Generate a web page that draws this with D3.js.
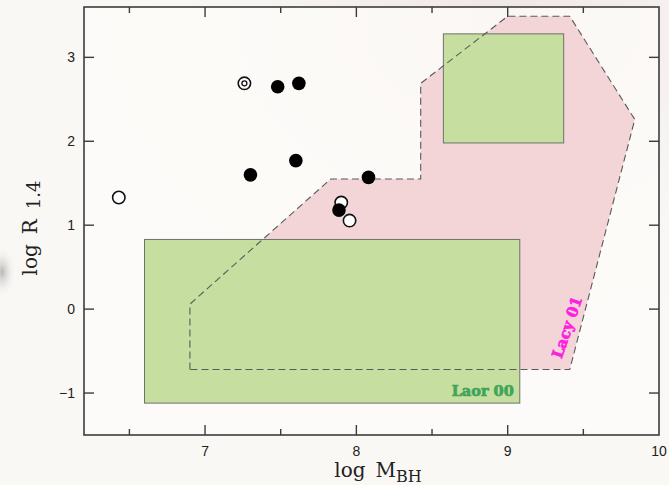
<!DOCTYPE html>
<html>
<head>
<meta charset="utf-8">
<script src="https://cdn.jsdelivr.net/npm/d3@7"></script>
<style>
  body { margin: 0; background: #faf8f5; }
  svg { display: block; }
</style>
</head>
<body>
<svg id="chart" width="669" height="485"></svg>
<script>
// tick values
var xMajor = [7, 8, 9, 10]
var xMinor = [6.5, 7.5, 8.5, 9.5]
var yMajor = [-1, 0, 1, 2, 3]

// Lacy 01 region (log M_BH, log R)
var lacyX = [6.90, 6.90, 7.83, 8.425, 8.425, 9.00, 9.41, 9.84, 9.41]
var lacyY = [-0.72, 0.06, 1.55, 1.55, 2.69, 3.49, 3.49, 2.26, -0.72]

// Laor 00 boxes: [x0, x1, y0, y1]
var laorBoxes = [
    [6.60, 9.08, -1.12, 0.83],
    [8.575, 9.37, 1.98, 3.28]
]

// objects
var filledX = [7.48, 7.62, 7.30, 7.60, 8.08]
var filledY = [2.65, 2.69, 1.60, 1.77, 1.57]
var openX = [6.43, 7.90]
var openY = [1.33, 1.27]
var filled2X = [7.885]
var filled2Y = [1.18]
var open2X = [7.955]
var open2Y = [1.055]
var ringX = [7.26]
var ringY = [2.69]

var svg = d3.select("#chart")
var margin = {left: 84, right: 10, top: 7, bottom: 50}
var width = 669, height = 485

var x = d3.scaleLinear().domain([6.2, 10]).range([margin.left, width - margin.right])
var y = d3.scaleLinear().domain([-1.5, 3.6]).range([height - margin.bottom, margin.top])

// faint background texture
var defs = svg.append("defs")
var g1 = defs.append("radialGradient").attr("id", "bgpink").attr("cx", "0.75").attr("cy", "0.05").attr("r", "0.7")
g1.append("stop").attr("offset", "0").attr("stop-color", "#efe6e3")
g1.append("stop").attr("offset", "1").attr("stop-color", "#faf8f5").attr("stop-opacity", 0)
var g2 = defs.append("radialGradient").attr("id", "blob").attr("cx", "0.5").attr("cy", "0.5").attr("r", "0.5")
g2.append("stop").attr("offset", "0").attr("stop-color", "#b8b8b8")
g2.append("stop").attr("offset", "1").attr("stop-color", "#faf8f5").attr("stop-opacity", 0)

svg.append("rect").attr("width", width).attr("height", height).attr("fill", "#faf8f5")
svg.append("rect").attr("width", width).attr("height", height).attr("fill", "url(#bgpink)")
svg.append("ellipse").attr("cx", 2).attr("cy", 272).attr("rx", 14).attr("ry", 26).attr("fill", "url(#blob)")

// plot area (almost white)
svg.append("rect")
    .attr("x", x(6.2)).attr("y", y(3.6))
    .attr("width", x(10) - x(6.2)).attr("height", y(-1.5) - y(3.6))
    .attr("fill", "#fdfcfa").attr("opacity", 0.75)

// Lacy region fill
var lacyPts = lacyX.map((d, i) => [x(d), y(lacyY[i])])
svg.append("polygon")
    .attr("points", lacyPts.map(p => p.join(",")).join(" "))
    .attr("fill", "#f3d5d8")

// Laor boxes
svg.selectAll(".laor")
    .data(laorBoxes)
    .enter().append("rect")
    .attr("class", "laor")
    .attr("x", d => x(d[0]))
    .attr("y", d => y(d[3]))
    .attr("width", d => x(d[1]) - x(d[0]))
    .attr("height", d => y(d[2]) - y(d[3]))
    .attr("fill", "#c6dea0")
    .attr("stroke", "#6f7368")
    .attr("stroke-width", 1)

// Lacy dashed outline
svg.append("polygon")
    .attr("points", lacyPts.map(p => p.join(",")).join(" "))
    .attr("fill", "none")
    .attr("stroke", "#5a5a5a")
    .attr("stroke-width", 1.1)
    .attr("stroke-dasharray", "7,4")

// frame
svg.append("rect")
    .attr("x", x(6.2)).attr("y", y(3.6))
    .attr("width", x(10) - x(6.2)).attr("height", y(-1.5) - y(3.6))
    .attr("fill", "none").attr("stroke", "#3c3c3c").attr("stroke-width", 1.6)

// ticks, pointing inward
var tickColor = "#3c3c3c"
function xTicks(vals, len) {
    vals.forEach(function (v) {
        svg.append("line").attr("x1", x(v)).attr("x2", x(v))
            .attr("y1", y(-1.5)).attr("y2", y(-1.5) - len)
            .attr("stroke", tickColor).attr("stroke-width", 1.4)
        svg.append("line").attr("x1", x(v)).attr("x2", x(v))
            .attr("y1", y(3.6)).attr("y2", y(3.6) + len)
            .attr("stroke", tickColor).attr("stroke-width", 1.4)
    })
}
xTicks(xMajor.filter(v => v < 10), 10)
xTicks(xMinor, 6)
yMajor.forEach(function (v) {
    svg.append("line").attr("x1", x(6.2)).attr("x2", x(6.2) + 10)
        .attr("y1", y(v)).attr("y2", y(v))
        .attr("stroke", tickColor).attr("stroke-width", 1.4)
    svg.append("line").attr("x1", x(10)).attr("x2", x(10) - 10)
        .attr("y1", y(v)).attr("y2", y(v))
        .attr("stroke", tickColor).attr("stroke-width", 1.4)
})

// tick labels
svg.selectAll(".xlab")
    .data(xMajor)
    .enter().append("text")
    .attr("x", d => x(d)).attr("y", y(-1.5) + 21)
    .attr("text-anchor", "middle")
    .attr("font-family", "Liberation Sans, Arial, sans-serif")
    .attr("font-size", 14).attr("fill", "#222")
    .text(d => d)
svg.selectAll(".ylab")
    .data(yMajor)
    .enter().append("text")
    .attr("x", x(6.2) - 9).attr("y", d => y(d) + 5)
    .attr("text-anchor", "end")
    .attr("font-family", "Liberation Sans, Arial, sans-serif")
    .attr("font-size", 14).attr("fill", "#222")
    .text(d => d == -1 ? "\u22121" : d)

// axis titles
var xt = svg.append("text")
    .attr("x", 378).attr("y", 477)
    .attr("text-anchor", "middle")
    .attr("font-family", "DejaVu Serif, serif")
    .attr("font-size", 20).attr("fill", "#222")
xt.append("tspan").text("log\u2002M")
xt.append("tspan").attr("dy", 5).attr("font-size", 16).text("BH")

var yt = svg.append("text")
    .attr("transform", "translate(37,228) rotate(-90)")
    .attr("text-anchor", "middle")
    .attr("font-family", "DejaVu Serif, serif")
    .attr("font-size", 20).attr("fill", "#222")
yt.append("tspan").text("log\u2002R\u2002")
yt.append("tspan").attr("dy", 3).attr("font-size", 18).text("1.4")

// region labels
svg.append("text")
    .attr("x", x(9.08) - 6).attr("y", y(-1.12) - 7)
    .attr("text-anchor", "end")
    .attr("font-family", "DejaVu Serif, serif")
    .attr("font-weight", "bold")
    .attr("font-size", 14.5).attr("fill", "#3fa55a")
    .attr("stroke", "#3fa55a").attr("stroke-width", 0.7)
    .text("Laor 00")
svg.append("text")
    .attr("transform", "translate(572,329) rotate(-71)")
    .attr("text-anchor", "middle")
    .attr("font-family", "DejaVu Serif, serif")
    .attr("font-weight", "bold")
    .attr("font-size", 15).attr("fill", "#ff1fe0")
    .attr("stroke", "#ff1fe0").attr("stroke-width", 0.7)
    .text("Lacy 01")

// points
function drawOpen(xs, ys) {
    svg.selectAll(null)
        .data(xs)
        .enter().append("circle")
        .attr("cx", d => x(d)).attr("cy", (d, i) => y(ys[i]))
        .attr("r", 6.2)
        .attr("fill", "#fff").attr("stroke", "#111").attr("stroke-width", 1.6)
}
function drawFilled(xs, ys) {
    svg.selectAll(null)
        .data(xs)
        .enter().append("circle")
        .attr("cx", d => x(d)).attr("cy", (d, i) => y(ys[i]))
        .attr("r", 6.8)
        .attr("fill", "#000")
}
drawOpen(openX, openY)
drawFilled(filledX, filledY)
drawFilled(filled2X, filled2Y)
drawOpen(open2X, open2Y)
drawOpen(ringX, ringY)
svg.selectAll(null)
    .data(ringX)
    .enter().append("circle")
    .attr("cx", d => x(d)).attr("cy", (d, i) => y(ringY[i]))
    .attr("r", 2.5)
    .attr("fill", "none").attr("stroke", "#111").attr("stroke-width", 1.3)
</script>
</body>
</html>
